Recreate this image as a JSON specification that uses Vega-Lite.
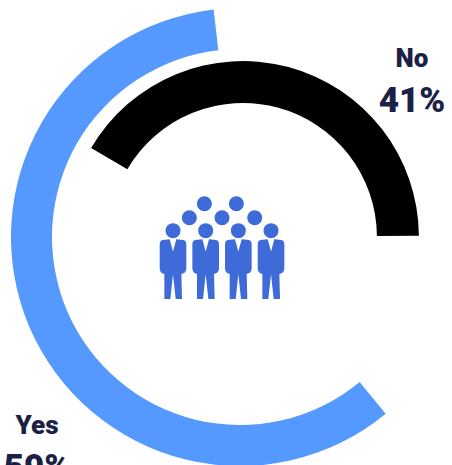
{
  "$schema": "https://vega.github.io/schema/vega-lite/v6.json",
  "width": 452,
  "height": 465,
  "padding": 0,
  "autosize": "none",
  "background": "white",
  "view": {"stroke": null},
  "datasets": {
    "answers": [
      {"answer": "Yes", "share": 59, "col": 2.05, "level": -0.47},
      {"answer": "No", "share": 41, "col": 2.14, "level": -0.47}
    ],
    "labels": [
      {"label": "No", "kind": "name", "col": 7.316, "level": 12.13},
      {"label": "41%", "kind": "value", "col": 7.316, "level": 8.79},
      {"label": "Yes", "kind": "name", "col": -4.163, "level": -15.05},
      {"label": "59%", "kind": "value", "col": -4.163, "level": -18.39}
    ],
    "bodies": [
      {"col": 0, "level": -2.83},
      {"col": 1, "level": -2.83},
      {"col": 2, "level": -2.83},
      {"col": 3, "level": -2.83}
    ],
    "heads": [
      {"col": 0, "level": 0},
      {"col": 1, "level": 0},
      {"col": 2, "level": 0},
      {"col": 3, "level": 0},
      {"col": 0.5, "level": 0.96},
      {"col": 1.5, "level": 0.96},
      {"col": 2.5, "level": 0.96},
      {"col": 0.96, "level": 2},
      {"col": 1.94, "level": 2}
    ]
  },
  "encoding": {
    "x": {"field": "col", "type": "quantitative", "axis": null, "scale": {"domain": [-5.296, 8.54], "nice": false, "zero": false}},
    "y": {"field": "level", "type": "quantitative", "axis": null, "scale": {"domain": [-17.36, 17.09], "nice": false, "zero": false}}
  },
  "layer": [
    {
      "data": {"name": "answers"},
      "transform": [{"filter": "datum.answer === 'Yes'"}],
      "mark": {"type": "arc", "radius": 229, "radius2": 188, "color": "#5599FF"},
      "encoding": {
        "theta": {"field": "share", "type": "quantitative", "scale": {"domain": [0, 100], "range": [2.452, 8.75]}}
      }
    },
    {
      "data": {"name": "answers"},
      "transform": [{"filter": "datum.answer === 'No'"}],
      "mark": {"type": "arc", "radius": 176, "radius2": 134, "color": "#000000"},
      "encoding": {
        "theta": {"field": "share", "type": "quantitative", "scale": {"domain": [0, 100], "range": [-1.04, 5.31]}}
      }
    },
    {
      "data": {"name": "bodies"},
      "mark": {
        "type": "point",
        "filled": true,
        "opacity": 1,
        "color": "#3F6BD8",
        "size": 3600,
        "shape": "M-0.444,-0.822Q-0.444,-0.967,-0.278,-0.967L-0.111,-0.989L0,-0.578L0.111,-0.989L0.278,-0.967Q0.444,-0.967,0.444,-0.822L0.444,-0.022Q0.444,0.144,0.278,0.167L0.3,1L0.089,1L0,0.178L-0.089,1L-0.289,1L-0.289,0.167Q-0.444,0.144,-0.444,-0.022Z"
      }
    },
    {
      "data": {"name": "heads"},
      "mark": {"type": "point", "filled": true, "opacity": 1, "color": "#3F6BD8", "size": 225, "shape": "circle"}
    },
    {
      "data": {"name": "labels"},
      "mark": {"type": "text", "font": "Roboto", "fontWeight": 900, "align": "center", "baseline": "alphabetic", "color": "#1A2046"},
      "encoding": {
        "text": {"field": "label"},
        "size": {"field": "kind", "type": "nominal", "legend": null, "scale": {"domain": ["name", "value"], "range": [26, 35]}}
      }
    }
  ],
  "resolve": {"scale": {"theta": "independent", "size": "independent"}}
}
